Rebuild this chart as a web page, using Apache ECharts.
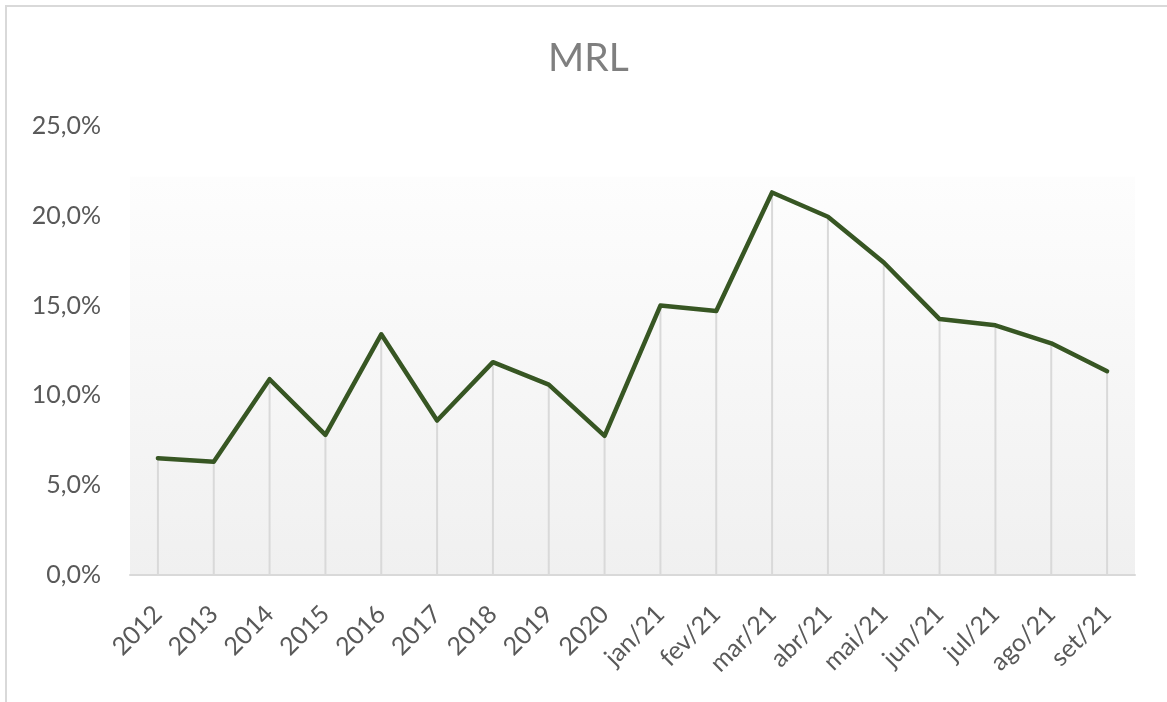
<!DOCTYPE html>
<html>
<head>
<meta charset="utf-8">
<script src="https://cdn.jsdelivr.net/npm/echarts@6/dist/echarts.min.js"></script>
<style>
html,body{margin:0;padding:0;background:#fff;overflow:hidden;}
#frame{position:absolute;left:5px;top:5px;width:1300px;height:900px;border:2px solid #d9d9d9;box-sizing:border-box;}
#chart{position:absolute;left:0;top:0;width:1167px;height:702px;}
</style>
</head>
<body>
<div id="frame"></div>
<div id="chart"></div>
<script>
const titleText = 'MRL';
const categories = ['2012','2013','2014','2015','2016','2017','2018','2019','2020','jan/21','fev/21','mar/21','abr/21','mai/21','jun/21','jul/21','ago/21','set/21'];
const mrlValues = [6.5, 6.3, 10.9, 7.8, 13.4, 8.6, 11.85, 10.6, 7.75, 15.0, 14.7, 21.3, 19.95, 17.4, 14.25, 13.9, 12.9, 11.35];
const yTicks = [0, 5, 10, 15, 20, 25];

const chart = echarts.init(document.getElementById('chart'));
const fontFam = 'Lato, "Open Sans", sans-serif';
chart.setOption({
  animation: false,
  backgroundColor: 'transparent',
  title: {
    text: titleText, left: 543, top: 34,
    textStyle: { fontFamily: fontFam, fontSize: 39, fontWeight: 'normal', color: '#7f7f7f' }
  },
  grid: {
    left: 130, right: 32, top: 126, bottom: 127, show: true, borderWidth: 0,
    backgroundColor: {
      type: 'linear', x: 0, y: 0, x2: 0, y2: 1,
      colorStops: [
        { offset: 0, color: '#ffffff' },
        { offset: 0.112, color: '#ffffff' },
        { offset: 0.114, color: '#fdfdfd' },
        { offset: 1, color: '#f0f0f0' }
      ]
    }
  },
  xAxis: {
    type: 'category', data: categories, boundaryGap: true,
    axisLine: { lineStyle: { color: '#d9d9d9', width: 2 } },
    axisTick: { show: false },
    axisLabel: {
      rotate: 45, interval: 0, margin: 35, color: '#595959',
      fontFamily: fontFam, fontSize: 25, padding: [30, 0, 0, 0]
    }
  },
  yAxis: {
    type: 'value', min: yTicks[0], max: yTicks[yTicks.length - 1], interval: 5,
    axisLine: { show: false }, axisTick: { show: false },
    splitLine: { show: false },
    axisLabel: {
      margin: 29, color: '#595959', fontFamily: fontFam, fontSize: 25,
      formatter: v => v.toFixed(1).replace('.', ',') + '%'
    }
  },
  series: [
    {
      type: 'bar', data: mrlValues, barWidth: 2, silent: true,
      itemStyle: { color: '#d9d9d9' }
    },
    {
      type: 'line', data: mrlValues, symbol: 'none',
      lineStyle: { color: '#375623', width: 4.5, join: 'round', cap: 'round' },
      z: 5
    }
  ]
});
</script>
</body>
</html>
